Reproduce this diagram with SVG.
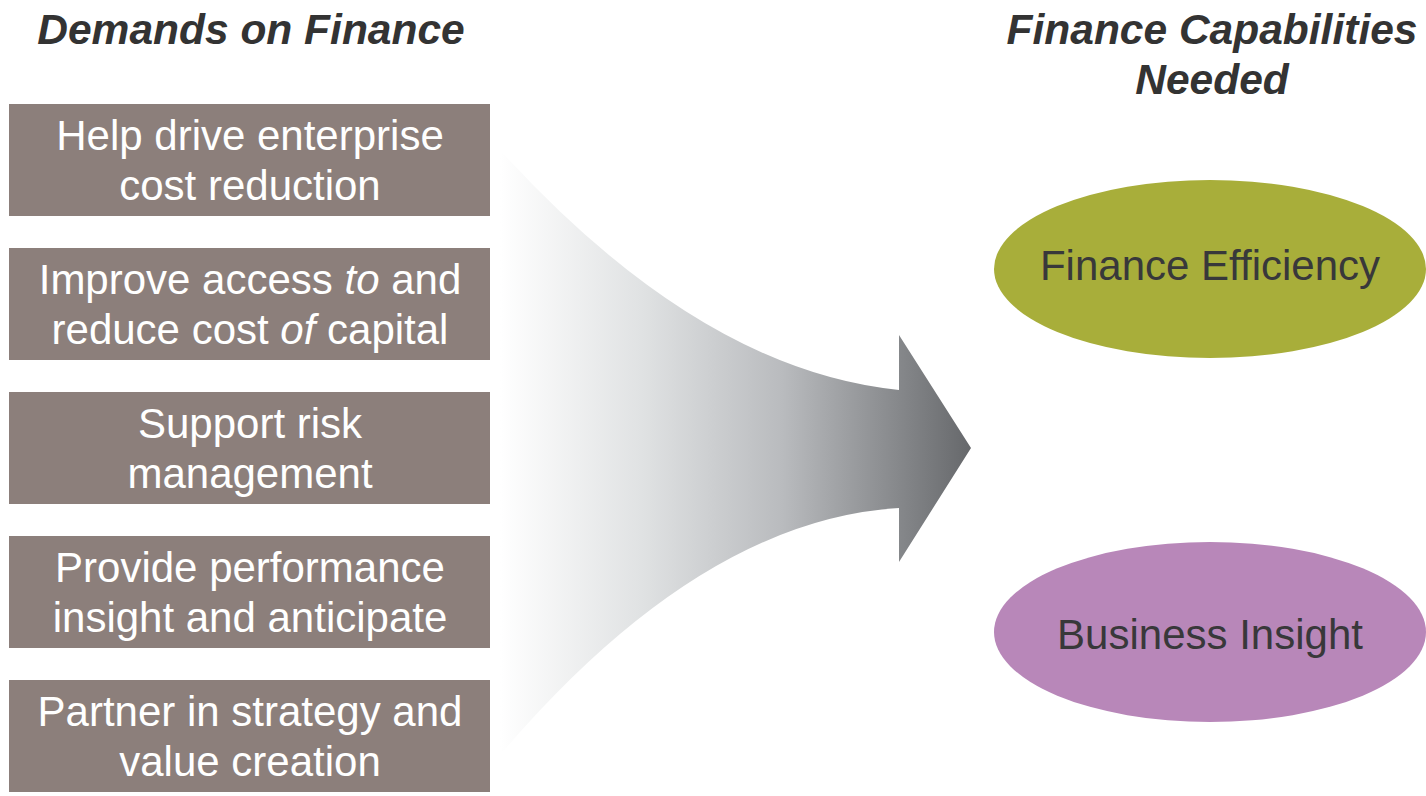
<svg xmlns="http://www.w3.org/2000/svg" width="1426" height="796" viewBox="0 0 1426 796">
<defs>
<linearGradient id="ag" x1="500" y1="0" x2="971" y2="0" gradientUnits="userSpaceOnUse">
<stop offset="0" stop-color="#ffffff"/>
<stop offset="0.3" stop-color="#e0e2e3"/>
<stop offset="0.6" stop-color="#b9bbbe"/>
<stop offset="1" stop-color="#66686b"/>
</linearGradient>
<style>
.box{fill:#8c7f7b}
.bt{font-family:"Liberation Sans",Arial,sans-serif;font-size:42px;fill:#ffffff;text-anchor:middle}
.title{font-family:"Liberation Sans",Arial,sans-serif;font-size:42.5px;font-weight:bold;font-style:italic;fill:#333333;text-anchor:middle}
.et{font-family:"Liberation Sans",Arial,sans-serif;font-size:42px;fill:#38383a;text-anchor:middle}
</style>
</defs>
<rect width="1426" height="796" fill="#ffffff"/>
<text class="title" x="251" y="44">Demands on Finance</text>
<text class="title" x="1212" y="44">Finance Capabilities</text>
<text class="title" x="1212" y="94">Needed</text>
<g id="connectors">
<path d="M500,150 Q700,370 899,390 L899,335 L971,448 L899,562 L899,508 Q700,520 500,755 Z" fill="url(#ag)"/>
</g>
<g id="n1"><rect class="box" x="9" y="104" width="481" height="112"/><text class="bt" x="250" y="150">Help drive enterprise</text><text class="bt" x="250" y="200">cost reduction</text></g>
<g id="n2"><rect class="box" x="9" y="248" width="481" height="112"/><text class="bt" x="250" y="294">Improve access <tspan font-style="italic">to</tspan> and</text><text class="bt" x="250" y="344">reduce cost <tspan font-style="italic">of</tspan> capital</text></g>
<g id="n3"><rect class="box" x="9" y="392" width="481" height="112"/><text class="bt" x="250" y="438">Support risk</text><text class="bt" x="250" y="488">management</text></g>
<g id="n4"><rect class="box" x="9" y="536" width="481" height="112"/><text class="bt" x="250" y="582">Provide performance</text><text class="bt" x="250" y="632">insight and anticipate</text></g>
<g id="n5"><rect class="box" x="9" y="680" width="481" height="112"/><text class="bt" x="250" y="726">Partner in strategy and</text><text class="bt" x="250" y="776">value creation</text></g>
<g id="e1"><ellipse cx="1210" cy="269" rx="216" ry="89" fill="#a8ae3a"/><text class="et" x="1210" y="280">Finance Efficiency</text></g>
<g id="e2"><ellipse cx="1210" cy="632" rx="216" ry="90" fill="#b887b9"/><text class="et" x="1210" y="649">Business Insight</text></g>
</svg>
